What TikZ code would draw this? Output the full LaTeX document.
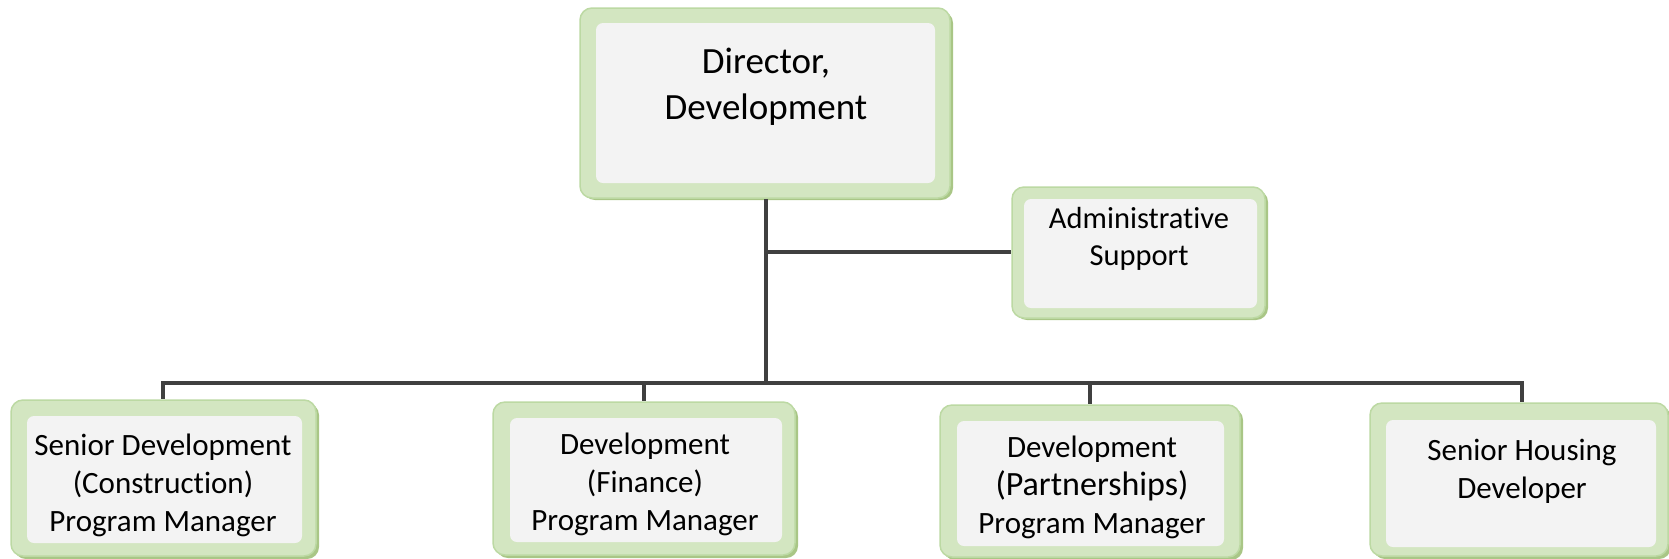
\documentclass[tikz,border=0pt]{standalone}
\usepackage{fontspec}
\setmainfont{Carlito}[Ligatures=NoCommon]
\definecolor{outergreen}{HTML}{D3E6C1}
\definecolor{edgegreen}{HTML}{BCD9A3}
\definecolor{shadowgreen}{HTML}{A9C686}
\definecolor{innergrey}{HTML}{F3F3F3}
\definecolor{linegrey}{HTML}{404040}
\begin{document}
\begin{tikzpicture}[x=1pt,y=-1pt,
  outerbox/.style={draw=edgegreen, line width=1.5pt, fill=outergreen, rounded corners=12pt, inner sep=0pt},
  shadowbox/.style={fill=shadowgreen, rounded corners=12pt, draw=none},
  innerbox/.style={fill=innergrey, draw=none, rounded corners=7pt},
  conn/.style={draw=linegrey, line width=3.5pt},
  bigtext/.style={align=center, anchor=base, font=\fontsize{37}{46}\selectfont, inner sep=0pt},
  boxtext/.style={align=center, anchor=base, font=\fontsize{31}{38}\selectfont, inner sep=0pt}]
\useasboundingbox (0,0) rectangle (1669,558);

% shadows
\fill[shadowbox] (583,11) rectangle (953,200);
\fill[shadowbox] (1015,190) rectangle (1268,320);
\fill[shadowbox] (14,403) rectangle (319,559);
\fill[shadowbox] (496,405) rectangle (798,558);
\fill[shadowbox] (943,408) rectangle (1243,560);
\fill[shadowbox] (1373,406) rectangle (1671,559);

% outer boxes as named nodes
\node[outerbox, minimum width=370pt, minimum height=190pt] (dir) at (765,103) {};
\node[outerbox, minimum width=253pt, minimum height=131pt] (adm) at (1138.5,252.5) {};
\node[outerbox, minimum width=305pt, minimum height=156pt] (b1) at (163.5,478) {};
\node[outerbox, minimum width=302pt, minimum height=153pt] (b2) at (644,478.5) {};
\node[outerbox, minimum width=300pt, minimum height=152pt] (b3) at (1090,481) {};
\node[outerbox, minimum width=298pt, minimum height=153pt] (b4) at (1519,479.5) {};

% inner panels
\fill[innerbox] (596,23) rectangle (935,183);
\fill[innerbox] (1024,199) rectangle (1257,308);
\fill[innerbox] (27,416) rectangle (302,543);
\fill[innerbox] (510,418) rectangle (782,542);
\fill[innerbox] (957,421) rectangle (1224,546);
\fill[innerbox] (1386,420) rectangle (1656,547);

% texts (anchored at the baseline of the last line)
\node[bigtext] (tdir) at (766,119) {Director,\\Development};
\node[boxtext, font=\fontsize{30.5}{37}\selectfont] (tadm) at (1139,265) {Administrative\\Support};
\node[boxtext] (t1) at (163,531) {Senior Development\\(Construction)\\ Program Manager};
\node[boxtext] (t2) at (645,530) {Development\\(Finance)\\Program Manager};
\node[boxtext] (t3) at (1092,533) {Development\\{\fontsize{34}{38}\selectfont(Partnerships)}\\Program Manager};
\node[boxtext, font=\fontsize{31}{38}\selectfont] (t4) at (1522,498) {Senior Housing\\Developer};

% connectors
\coordinate (hub) at (766,383);
\coordinate (ja) at (766,252);
\coordinate (d1) at (163,383);
\coordinate (d2) at (644,383);
\coordinate (d3) at (1090,383);
\coordinate (d4) at (1522,383);
\draw[conn] (dir.south -| hub) -- (hub);
\draw[conn] (ja) -- (adm.west |- ja);
\draw[conn, line cap=rect] (d1) -- (d4);
\draw[conn] (d1) -- (d1 |- b1.north);
\draw[conn] (d2) -- (d2 |- b2.north);
\draw[conn] (d3) -- (d3 |- b3.north);
\draw[conn] (d4) -- (d4 |- b4.north);
\end{tikzpicture}
\end{document}
